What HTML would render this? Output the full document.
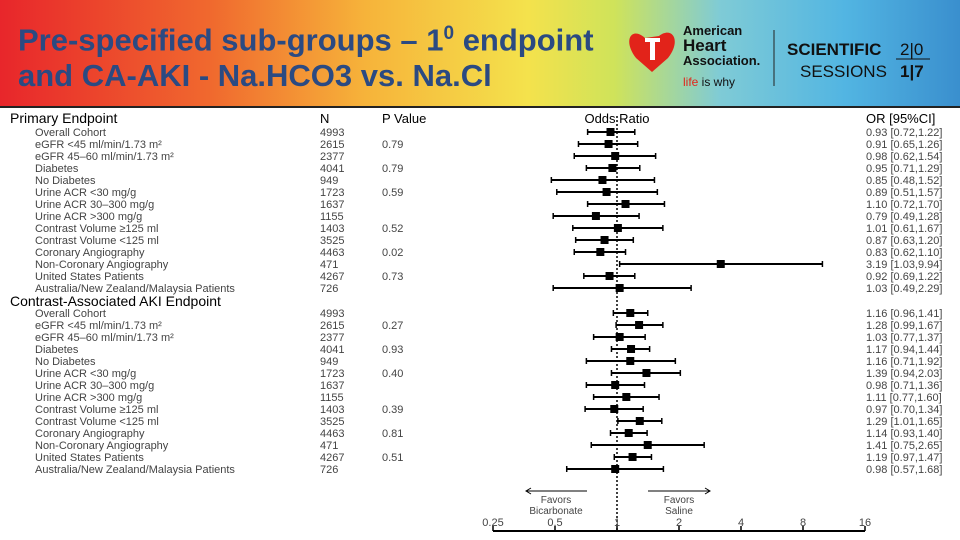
<!DOCTYPE html>
<html><head><meta charset="utf-8"><style>
body{margin:0;width:960px;height:540px;overflow:hidden;background:#fff;font-family:"Liberation Sans",sans-serif}
#hdr{position:absolute;left:0;top:0;width:960px;height:106px;background:linear-gradient(90deg,#e8262b 0%,#f0692e 22%,#f6b33a 38%,#f4e24c 55%,#cfe35a 64%,#7fcbd6 75%,#52b5e2 88%,#3a8fce 100%)}
#title{position:absolute;left:18px;top:16px;font-size:31px;line-height:36px;color:#2b4a82;font-weight:bold;white-space:nowrap}
svg{position:absolute;left:0;top:0}
</style></head><body>
<div id="hdr"></div>
<div id="title">Pre-specified sub-groups – 1<sup style="font-size:19px">0</sup> endpoint<br>and CA-AKI - Na.HCO3 vs. Na.Cl</div>
<svg width="960" height="540" id="chart">
<g>
<path d="M645 38 C632 26 622 40 636 58 L652 72 L668 58 C682 40 672 26 659 36 Z" fill="#e2231a"/>
<rect x="650" y="40" width="5" height="20" fill="#fff"/><rect x="645" y="38" width="15" height="4" fill="#fff"/>
<text x="683" y="35" font-size="13" font-weight="bold" fill="#111">American</text>
<text x="683" y="51" font-size="17" font-weight="bold" fill="#111">Heart</text>
<text x="683" y="65" font-size="13" font-weight="bold" fill="#111">Association.</text>
<text x="683" y="86" font-size="12" fill="#111"><tspan fill="#e2231a">life</tspan> is why</text>
<line x1="774" y1="30" x2="774" y2="86" stroke="#222" stroke-width="1"/>
<text x="787" y="55" font-size="17" font-weight="bold" fill="#111">SCIENTIFIC</text>
<text x="800" y="77" font-size="17" fill="#111">SESSIONS</text>
<text x="900" y="55" font-size="17" fill="#111">2|0</text>
<text x="900" y="77" font-size="17" font-weight="bold" fill="#111">1|7</text>
<line x1="896" y1="59" x2="930" y2="59" stroke="#111"/>
</g>
<line x1="0" y1="107" x2="960" y2="107" stroke="#222" stroke-width="2"/>
<g id="plot"></g>
</svg>
<script>
const labels=["Overall Cohort","eGFR <45 ml/min/1.73 m²","eGFR 45–60 ml/min/1.73 m²","Diabetes","No Diabetes","Urine ACR <30 mg/g","Urine ACR 30–300 mg/g","Urine ACR >300 mg/g","Contrast Volume ≥125 ml","Contrast Volume <125 ml","Coronary Angiography","Non-Coronary Angiography","United States Patients","Australia/New Zealand/Malaysia Patients"];
const nVals=["4993","2615","2377","4041","949","1723","1637","1155","1403","3525","4463","471","4267","726"];
const pPrim=["","0.79","","0.79","","0.59","","","0.52","","0.02","","0.73",""];
const pAki=["","0.27","","0.93","","0.40","","","0.39","","0.81","","0.51",""];
const orPrim=[0.93,0.91,0.98,0.95,0.85,0.89,1.10,0.79,1.01,0.87,0.83,3.19,0.92,1.03];
const loPrim=[0.72,0.65,0.62,0.71,0.48,0.51,0.72,0.49,0.61,0.63,0.62,1.03,0.69,0.49];
const hiPrim=[1.22,1.26,1.54,1.29,1.52,1.57,1.70,1.28,1.67,1.20,1.10,9.94,1.22,2.29];
const orAki=[1.16,1.28,1.03,1.17,1.16,1.39,0.98,1.11,0.97,1.29,1.14,1.41,1.19,0.98];
const loAki=[0.96,0.99,0.77,0.94,0.71,0.94,0.71,0.77,0.70,1.01,0.93,0.75,0.97,0.57];
const hiAki=[1.41,1.67,1.37,1.44,1.92,2.03,1.36,1.60,1.34,1.65,1.40,2.65,1.47,1.68];
const ticks=[0.25,0.5,1,2,4,8,16];
const NS="http://www.w3.org/2000/svg",g=document.getElementById('plot');
const xS=v=>617+62*Math.log2(v);
function mk(t,a,txt){const e=document.createElementNS(NS,t);for(const k in a)e.setAttribute(k,a[k]);if(txt!==undefined)e.textContent=txt;g.appendChild(e);return e;}
const TC="#444";
mk('text',{x:10,y:123,'font-size':14,fill:'#000'},'Primary Endpoint');
mk('text',{x:10,y:306,'font-size':14,fill:'#000'},'Contrast-Associated AKI Endpoint');
mk('text',{x:320,y:123,'font-size':13,fill:'#000'},'N');
mk('text',{x:382,y:123,'font-size':13,fill:'#000'},'P Value');
mk('text',{x:617,y:123,'font-size':13,fill:'#000','text-anchor':'middle'},'Odds Ratio');
mk('text',{x:866,y:123,'font-size':13,fill:'#000'},'OR  [95%CI]');
function block(y0,pv,or,lo,hi,tag){
 for(let i=0;i<labels.length;i++){
  const y=y0+i*12;
  let e=mk('text',{x:35,y:y+4,'font-size':11,fill:TC},labels[i]);
  
  e=mk('text',{x:320,y:y+4,'font-size':11,fill:TC},nVals[i]);
  
  if(pv[i]){e=mk('text',{x:382,y:y+4,'font-size':11,fill:TC},pv[i]);
  }
  e=mk('text',{x:866,y:y+4,'font-size':11,fill:TC},or[i].toFixed(2)+' ['+lo[i].toFixed(2)+','+hi[i].toFixed(2)+']');
  
  const x1=xS(lo[i]),x2=xS(hi[i]);
  e=mk('line',{x1:x1,x2:x2,y1:y,y2:y,stroke:'#000','stroke-width':2});
  
  mk('line',{x1:x1,x2:x1,y1:y-3,y2:y+3,stroke:'#000','stroke-width':1.5});
  mk('line',{x1:x2,x2:x2,y1:y-3,y2:y+3,stroke:'#000','stroke-width':1.5});
  e=mk('rect',{x:xS(or[i])-4,y:y-4,width:8,height:8,fill:'#000'});
  
 }
}
block(132,pPrim,orPrim,loPrim,hiPrim,'primary');
block(313,pAki,orAki,loAki,hiAki,'aki');
let r=mk('line',{x1:617,x2:617,y1:116,y2:531,stroke:'#000','stroke-width':1.5,'stroke-dasharray':'2,2'});

r=mk('line',{x1:xS(0.25),x2:xS(16),y1:531,y2:531,stroke:'#000','stroke-width':2});

ticks.forEach(t=>{const x=xS(t);
 mk('line',{x1:x,x2:x,y1:526,y2:531,stroke:'#000','stroke-width':1.5});
 const e=mk('text',{x:x,y:526,'font-size':11,fill:TC,'text-anchor':'middle'},String(t));
 });
mk('line',{x1:526,x2:587,y1:491,y2:491,stroke:'#000'});mk('path',{d:'M531 488 L526 491 L531 494',fill:'none',stroke:'#000'});
mk('line',{x1:648,x2:710,y1:491,y2:491,stroke:'#000'});mk('path',{d:'M705 488 L710 491 L705 494',fill:'none',stroke:'#000'});
let f=mk('text',{x:556,y:503,'font-size':10,fill:TC,'text-anchor':'middle'},'Favors');
mk('text',{x:556,y:514,'font-size':10,fill:TC,'text-anchor':'middle'},'Bicarbonate');
f=mk('text',{x:679,y:503,'font-size':10,fill:TC,'text-anchor':'middle'},'Favors');
mk('text',{x:679,y:514,'font-size':10,fill:TC,'text-anchor':'middle'},'Saline');
</script>
</body></html>
